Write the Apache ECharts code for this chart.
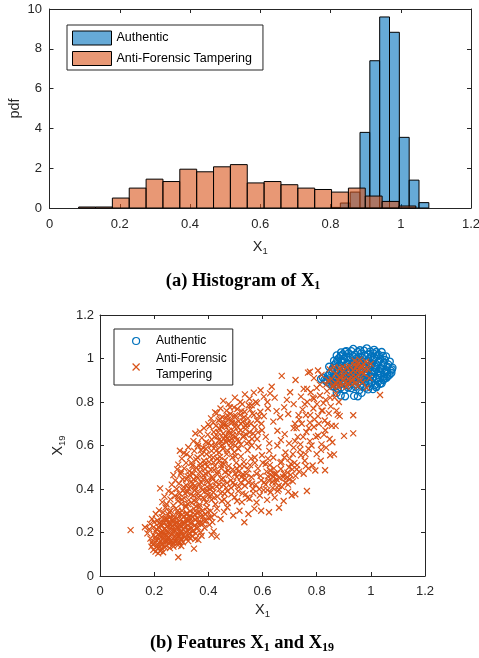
<!DOCTYPE html>
<html><head><meta charset="utf-8">
<script src="https://cdn.jsdelivr.net/npm/echarts@6/dist/echarts.min.js"></script>
<style>html,body{margin:0;padding:0;background:#fff}#c{width:479px;height:658px}</style>
</head><body><div id="c"></div>
<script>
// ---------- Histogram of X1 (pdf) ----------
const auEdges = [0.800,0.828,0.856,0.884,0.912,0.940,0.968,0.996,1.024,1.052,1.080];
const auPdf   = [0.03,0.25,0.80,3.80,7.40,9.60,8.83,3.55,1.40,0.27];
const afEdges = [0.083,0.131,0.179,0.227,0.275,0.323,0.371,0.419,0.467,0.515,0.563,0.611,0.659,0.707,0.755,0.803,0.851,0.899,0.947,0.995,1.043];
const afPdf   = [0.05,0.05,0.50,1.00,1.45,1.33,1.95,1.82,2.07,2.18,1.26,1.33,1.17,1.00,0.93,0.80,1.00,0.60,0.33,0.10];
const histXTicks = [0,0.2,0.4,0.6,0.8,1,1.2];
const histYTicks = [0,2,4,6,8,10];

// ---------- Scatter X1 vs X19 ----------
const auScatter = [
[0.816,0.906],[0.835,0.898],[0.846,0.962],[0.858,0.872],[0.874,0.842],[0.889,0.830],[0.905,0.826],[0.938,0.828],[0.952,0.826],[0.966,0.842],[0.990,0.858],[1.020,0.868],[1.040,0.886],[1.062,0.918],[1.080,0.958],[1.070,0.986],[1.056,1.010],[1.040,1.030],[1.012,1.040],[0.985,1.047],[0.960,1.038],[0.935,1.044],[0.910,1.034],[0.890,1.028],[0.874,1.014],[0.864,0.990],
[0.877,0.862],[0.903,0.857],[0.928,0.864],[0.958,0.855],[0.983,0.866],[1.008,0.859],
[0.848,0.884],[0.869,0.878],[0.891,0.885],[0.914,0.876],[0.942,0.883],[0.963,0.878],[0.991,0.886],[1.016,0.879],[1.034,0.884],
[0.829,0.902],[0.853,0.897],[0.876,0.905],[0.898,0.899],[0.921,0.904],[0.944,0.897],[0.969,0.903],[0.996,0.898],[1.019,0.905],[1.046,0.901],
[0.842,0.921],[0.864,0.917],[0.886,0.923],[0.908,0.918],[0.931,0.924],[0.954,0.916],[0.977,0.922],[0.999,0.917],[1.026,0.923],[1.049,0.918],[1.069,0.925],
[0.853,0.941],[0.876,0.937],[0.897,0.943],[0.918,0.938],[0.941,0.944],[0.962,0.936],[0.984,0.942],[1.011,0.937],[1.029,0.943],[1.054,0.938],[1.074,0.944],
[0.861,0.958],[0.882,0.963],[0.904,0.957],[0.927,0.962],[0.948,0.956],[0.971,0.963],[0.994,0.957],[1.016,0.962],[1.039,0.956],[1.061,0.963],
[0.871,0.978],[0.891,0.983],[0.913,0.977],[0.936,0.984],[0.958,0.978],[0.981,0.983],[1.004,0.977],[1.026,0.982],[1.048,0.979],
[0.882,1.002],[0.901,0.997],[0.924,1.003],[0.946,0.998],[0.968,1.004],[0.991,0.997],[1.014,1.003],[1.036,0.999],
[0.896,1.019],[0.918,1.024],[0.941,1.018],[0.964,1.023],[0.989,1.019],[1.009,1.024],[1.029,1.017],
[0.950,0.935],[0.965,0.950],[0.935,0.960],[0.980,0.925],[0.920,0.950],[1.000,0.970],[0.955,0.990],[0.970,0.915],[0.900,0.930],[1.020,0.950],
[0.866,0.870],[0.890,0.867],[0.916,0.866],[0.944,0.870],[0.971,0.869],[0.996,0.872],[1.022,0.874],
[0.838,0.892],[0.860,0.889],[0.881,0.894],[0.904,0.888],[0.928,0.893],[0.953,0.889],[0.978,0.894],[1.004,0.890],[1.028,0.894],[1.050,0.908],
[0.823,0.912],[0.847,0.909],[0.870,0.913],[0.892,0.908],[0.915,0.912],[0.937,0.908],[0.961,0.912],[0.985,0.909],[1.008,0.912],[1.033,0.910],[1.058,0.911],
[0.848,0.931],[0.870,0.928],[0.892,0.933],[0.913,0.929],[0.936,0.933],[0.958,0.927],[0.982,0.932],[1.005,0.928],[1.037,0.932],[1.060,0.929],[1.076,0.934],
[0.858,0.950],[0.879,0.947],[0.900,0.952],[0.923,0.946],[0.945,0.951],[0.967,0.946],[0.990,0.951],[1.013,0.947],[1.035,0.951],[1.057,0.947],[1.078,0.950],
[0.866,0.970],[0.887,0.967],[0.909,0.972],[0.932,0.968],[0.953,0.972],[0.976,0.967],[0.999,0.972],[1.021,0.968],[1.044,0.971],[1.064,0.973],
[0.876,0.992],[0.896,0.988],[0.919,0.993],[0.941,0.988],[0.963,0.993],[0.986,0.988],[1.009,0.993],[1.031,0.989],[1.052,0.994],
[0.889,1.011],[0.910,1.008],[0.933,1.012],[0.955,1.008],[0.978,1.012],[1.000,1.009],[1.022,1.011],[1.045,1.012],
[0.905,1.031],[0.928,1.034],[0.952,1.030],[0.975,1.036],[0.998,1.032],[1.020,1.030]
];
const afScatter = [
[0.289,0.086],[0.347,0.126],[0.197,0.120],[0.215,0.104],[0.228,0.127],[0.205,0.112],[0.222,0.115],[0.240,0.132],[0.271,0.135],[0.258,0.128],[0.190,0.135],[0.213,0.138],[0.300,0.138],[0.233,0.109],
[0.113,0.211],[0.166,0.224],[0.182,0.215],[0.175,0.196],[0.186,0.172],[0.192,0.155],[0.198,0.188],[0.205,0.205],[0.208,0.165],[0.212,0.148],[0.217,0.224],[0.220,0.185],[0.224,0.160],[0.226,0.200],[0.231,0.145],[0.234,0.176],[0.237,0.215],[0.240,0.190],[0.243,0.158],[0.246,0.228],[0.249,0.170],[0.252,0.203],[0.255,0.148],[0.258,0.185],[0.261,0.222],[0.264,0.165],[0.267,0.196],[0.270,0.152],[0.273,0.212],[0.276,0.178],[0.279,0.228],[0.282,0.160],[0.285,0.198],[0.288,0.142],[0.291,0.186],[0.294,0.219],[0.298,0.170],[0.302,0.205],[0.306,0.155],[0.310,0.190],[0.314,0.226],[0.318,0.172],[0.322,0.210],[0.326,0.160],[0.330,0.195],[0.335,0.225],[0.340,0.182],[0.345,0.208],[0.352,0.170],[0.358,0.218],[0.363,0.166],[0.372,0.200],[0.412,0.189],[0.431,0.181],[0.420,0.205],[0.198,0.225],[0.215,0.192],[0.232,0.205],[0.248,0.186],[0.265,0.210],[0.285,0.175],[0.300,0.190],[0.328,0.178],[0.218,0.170],[0.250,0.160],
[0.185,0.240],[0.192,0.262],[0.200,0.248],[0.206,0.285],[0.212,0.255],[0.218,0.302],[0.223,0.236],[0.228,0.270],[0.233,0.292],[0.238,0.245],[0.242,0.315],[0.247,0.262],[0.252,0.283],[0.256,0.238],[0.261,0.300],[0.266,0.255],[0.270,0.275],[0.275,0.242],[0.280,0.310],[0.284,0.265],[0.289,0.288],[0.294,0.237],[0.298,0.258],[0.303,0.300],[0.308,0.272],[0.312,0.245],[0.317,0.318],[0.322,0.285],[0.327,0.255],[0.332,0.298],[0.337,0.240],[0.342,0.270],[0.347,0.310],[0.352,0.260],[0.357,0.290],[0.362,0.245],[0.367,0.318],[0.372,0.275],[0.378,0.300],[0.383,0.255],[0.389,0.285],[0.395,0.315],[0.401,0.268],[0.408,0.298],[0.415,0.248],[0.423,0.282],[0.432,0.310],[0.445,0.262],[0.458,0.295],[0.470,0.315],[0.492,0.278],[0.515,0.300],[0.533,0.247],[0.548,0.285],[0.570,0.310],[0.595,0.300],[0.624,0.293],[0.661,0.314],[0.225,0.250],[0.258,0.270],[0.292,0.275],[0.320,0.265],[0.350,0.282],[0.380,0.240],
[0.222,0.403],[0.230,0.340],[0.238,0.365],[0.246,0.330],[0.253,0.390],[0.260,0.352],[0.265,0.383],[0.271,0.325],[0.277,0.368],[0.283,0.400],[0.288,0.345],[0.294,0.378],[0.300,0.332],[0.306,0.395],[0.311,0.358],[0.317,0.325],[0.322,0.385],[0.328,0.350],[0.334,0.408],[0.339,0.335],[0.345,0.370],[0.351,0.395],[0.356,0.342],[0.362,0.378],[0.368,0.328],[0.374,0.405],[0.380,0.360],[0.386,0.388],[0.392,0.338],[0.398,0.372],[0.405,0.400],[0.412,0.350],[0.419,0.385],[0.426,0.330],[0.433,0.365],[0.441,0.398],[0.450,0.345],[0.460,0.378],[0.472,0.335],[0.484,0.405],[0.497,0.362],[0.510,0.390],[0.524,0.340],[0.538,0.375],[0.552,0.355],[0.565,0.400],[0.578,0.338],[0.590,0.370],[0.604,0.395],[0.617,0.350],[0.630,0.385],[0.645,0.360],[0.660,0.398],[0.678,0.345],[0.695,0.388],[0.708,0.370],[0.721,0.376],[0.764,0.391],[0.290,0.360],[0.355,0.320],[0.415,0.405],[0.470,0.390],
[0.265,0.420],[0.271,0.464],[0.278,0.440],[0.285,0.490],[0.292,0.425],[0.298,0.470],[0.305,0.445],[0.311,0.495],[0.318,0.418],[0.324,0.458],[0.330,0.482],[0.337,0.432],[0.343,0.470],[0.350,0.415],[0.356,0.498],[0.362,0.450],[0.369,0.478],[0.375,0.428],[0.382,0.462],[0.388,0.492],[0.395,0.440],[0.401,0.475],[0.408,0.418],[0.414,0.455],[0.421,0.488],[0.428,0.432],[0.434,0.468],[0.441,0.420],[0.448,0.495],[0.455,0.450],[0.462,0.478],[0.469,0.428],[0.476,0.465],[0.483,0.440],[0.490,0.490],[0.497,0.418],[0.505,0.455],[0.512,0.480],[0.520,0.430],[0.528,0.468],[0.536,0.445],[0.548,0.490],[0.562,0.425],[0.578,0.470],[0.595,0.440],[0.612,0.420],[0.620,0.458],[0.628,0.485],[0.636,0.432],[0.644,0.470],[0.652,0.445],[0.660,0.415],[0.668,0.492],[0.676,0.455],[0.684,0.430],[0.692,0.475],[0.700,0.445],[0.710,0.490],[0.722,0.460],[0.735,0.480],[0.752,0.470],[0.770,0.495],[0.795,0.485],[0.831,0.486],[0.300,0.480],[0.345,0.445],[0.395,0.410],[0.455,0.420],[0.505,0.495],[0.640,0.455],
[0.289,0.512],[0.295,0.576],[0.302,0.540],[0.310,0.565],[0.318,0.520],[0.326,0.592],[0.333,0.548],[0.341,0.508],[0.348,0.575],[0.355,0.535],[0.362,0.598],[0.370,0.515],[0.377,0.560],[0.384,0.530],[0.391,0.585],[0.398,0.505],[0.405,0.548],[0.412,0.575],[0.419,0.522],[0.426,0.595],[0.433,0.540],[0.440,0.568],[0.447,0.510],[0.454,0.585],[0.461,0.532],[0.468,0.560],[0.475,0.505],[0.482,0.592],[0.489,0.545],[0.496,0.570],[0.503,0.520],[0.511,0.585],[0.520,0.550],[0.532,0.505],[0.545,0.578],[0.558,0.540],[0.572,0.520],[0.585,0.592],[0.598,0.555],[0.612,0.515],[0.625,0.575],[0.640,0.545],[0.655,0.600],[0.670,0.525],[0.685,0.568],[0.700,0.540],[0.715,0.590],[0.728,0.510],[0.742,0.555],[0.756,0.530],[0.770,0.585],[0.785,0.508],[0.800,0.560],[0.815,0.530],[0.835,0.590],[0.850,0.555],[0.864,0.559],[0.320,0.560],[0.380,0.590],[0.440,0.530],[0.500,0.550],[0.560,0.600],[0.620,0.540],[0.705,0.515],[0.760,0.505],
[0.345,0.620],[0.352,0.655],[0.360,0.608],[0.369,0.664],[0.376,0.635],[0.384,0.680],[0.391,0.615],[0.398,0.650],[0.405,0.688],[0.412,0.628],[0.420,0.662],[0.427,0.605],[0.434,0.642],[0.441,0.678],[0.448,0.620],[0.455,0.655],[0.462,0.690],[0.469,0.632],[0.476,0.668],[0.483,0.610],[0.490,0.648],[0.497,0.685],[0.505,0.625],[0.512,0.660],[0.520,0.605],[0.528,0.640],[0.537,0.675],[0.550,0.618],[0.565,0.655],[0.580,0.630],[0.598,0.670],[0.612,0.640],[0.655,0.668],[0.668,0.625],[0.682,0.652],[0.698,0.610],[0.715,0.680],[0.730,0.640],[0.762,0.662],[0.775,0.620],[0.790,0.685],[0.805,0.645],[0.818,0.605],[0.832,0.670],[0.848,0.630],[0.858,0.615],[0.901,0.644],[0.935,0.656],[0.870,0.690],[0.400,0.610],[0.450,0.685],[0.500,0.600],[0.540,0.650],[0.625,0.610],[0.740,0.605],
[0.400,0.697],[0.410,0.725],[0.418,0.705],[0.425,0.752],[0.431,0.748],[0.438,0.715],[0.445,0.770],[0.452,0.730],[0.460,0.700],[0.467,0.760],[0.474,0.720],[0.481,0.745],[0.488,0.705],[0.495,0.775],[0.503,0.735],[0.512,0.712],[0.522,0.758],[0.532,0.730],[0.543,0.700],[0.555,0.765],[0.568,0.740],[0.580,0.715],[0.592,0.755],[0.605,0.735],[0.640,0.710],[0.652,0.758],[0.665,0.730],[0.680,0.775],[0.695,0.745],[0.735,0.720],[0.748,0.765],[0.760,0.740],[0.775,0.705],[0.788,0.770],[0.805,0.735],[0.818,0.760],[0.830,0.715],[0.845,0.748],[0.878,0.742],[0.885,0.735],[0.935,0.739],[0.470,0.740],[0.520,0.700],[0.620,0.770],[0.720,0.700],
[0.455,0.805],[0.475,0.790],[0.498,0.820],[0.518,0.800],[0.535,0.835],[0.552,0.815],[0.568,0.843],[0.580,0.795],[0.593,0.854],[0.605,0.825],[0.618,0.800],[0.634,0.870],[0.628,0.840],[0.690,0.810],[0.702,0.845],[0.715,0.790],[0.742,0.825],[0.752,0.860],[0.765,0.800],[0.778,0.845],[0.790,0.815],[0.800,0.865],[0.812,0.830],[0.825,0.795],[0.838,0.850],[0.850,0.820],[0.860,0.870],[0.870,0.840],[0.645,0.820],[0.560,0.785],
[0.671,0.920],[0.722,0.901],[0.775,0.939],[0.768,0.935],[0.790,0.910],[0.805,0.945],[0.818,0.925],[0.835,0.880],[0.848,0.950],[0.855,0.905],[0.862,0.880],[0.870,0.930],[0.878,0.900],[0.885,0.955],[0.892,0.875],[0.898,0.920],[0.905,0.890],[0.912,0.960],[0.918,0.905],[0.925,0.935],[0.932,0.880],[0.938,0.970],[0.944,0.915],[0.950,0.945],[0.955,0.980],[0.962,0.900],[0.968,0.960],[0.975,0.930],[0.982,0.985],[0.990,0.950],[0.995,0.910],[1.000,0.975],[0.880,0.870],[0.910,0.870],[0.952,0.872],[1.034,0.832],[0.985,0.865],[0.865,0.960],[0.958,0.995],[0.940,0.990],
[0.195,0.145],[0.203,0.178],[0.209,0.215],[0.214,0.128],[0.219,0.245],[0.223,0.198],[0.227,0.142],[0.229,0.232],[0.235,0.160],[0.236,0.195],[0.241,0.262],[0.244,0.140],[0.245,0.212],[0.251,0.245],[0.253,0.175],[0.256,0.295],[0.259,0.158],[0.262,0.238],[0.263,0.190],[0.268,0.142],[0.269,0.228],[0.272,0.262],[0.274,0.165],[0.277,0.205],[0.281,0.245],[0.283,0.188],[0.286,0.222],[0.287,0.300],[0.292,0.155],[0.293,0.252],[0.296,0.200],[0.299,0.232],[0.301,0.168],[0.304,0.282],[0.307,0.215],[0.309,0.240],[0.313,0.178],[0.316,0.258],[0.319,0.200],[0.321,0.290],[0.324,0.232],[0.329,0.212],[0.331,0.268],[0.333,0.175],[0.338,0.250],[0.341,0.205],[0.344,0.290],[0.349,0.232],[0.354,0.195],[0.359,0.265],[0.361,0.225],[0.366,0.295],[0.370,0.245],[0.375,0.185],[0.381,0.275],[0.386,0.222],[0.392,0.255],[0.398,0.295],[0.404,0.235],[0.410,0.270],
[0.303,0.352],[0.309,0.410],[0.314,0.380],[0.319,0.445],[0.325,0.330],[0.327,0.402],[0.331,0.465],[0.336,0.375],[0.338,0.520],[0.342,0.425],[0.346,0.348],[0.349,0.488],[0.353,0.402],[0.358,0.455],[0.360,0.545],[0.364,0.362],[0.366,0.425],[0.371,0.500],[0.373,0.578],[0.378,0.395],[0.381,0.445],[0.385,0.355],[0.387,0.515],[0.390,0.470],[0.393,0.560],[0.396,0.392],[0.399,0.432],[0.403,0.525],[0.407,0.368],[0.409,0.488],[0.411,0.600],[0.416,0.445],[0.418,0.545],[0.422,0.360],[0.424,0.505],[0.429,0.575],[0.431,0.412],[0.436,0.480],[0.439,0.625],[0.443,0.548],[0.446,0.380],[0.449,0.445],[0.451,0.602],[0.457,0.515],[0.459,0.352],[0.463,0.645],[0.466,0.405],[0.471,0.575],[0.473,0.485],[0.479,0.625],
[0.423,0.640],[0.428,0.690],[0.436,0.660],[0.443,0.722],[0.447,0.598],[0.452,0.700],[0.458,0.632],[0.464,0.725],[0.466,0.615],[0.472,0.690],[0.478,0.655],[0.480,0.775],[0.485,0.715],[0.487,0.630],[0.493,0.665],[0.495,0.735],[0.500,0.705],[0.502,0.640],[0.507,0.768],[0.509,0.685],[0.514,0.620],[0.517,0.740],[0.519,0.670],[0.525,0.790],[0.527,0.710],[0.531,0.645],[0.534,0.755],[0.539,0.690],[0.542,0.610],[0.546,0.725],[0.549,0.785],[0.553,0.660],[0.557,0.700],[0.561,0.630],[0.563,0.748],[0.571,0.685],[0.575,0.800],[0.583,0.660],[0.588,0.735],[0.596,0.700],
[0.485,0.375],[0.492,0.430],[0.499,0.470],[0.506,0.345],[0.513,0.410],[0.517,0.505],[0.523,0.455],[0.526,0.380],[0.531,0.525],[0.535,0.415],[0.541,0.470],[0.544,0.360],[0.549,0.430],[0.554,0.510],[0.559,0.455],[0.566,0.380],[0.571,0.545],[0.575,0.420],[0.583,0.495],[0.588,0.400],[0.593,0.460],[0.601,0.520],[0.606,0.430],[0.615,0.480],[0.618,0.395],[0.623,0.440],[0.627,0.510],[0.632,0.465],[0.638,0.405],[0.642,0.495],[0.648,0.430],[0.651,0.470],[0.656,0.390],[0.663,0.450],[0.666,0.520],[0.672,0.410],[0.679,0.470],[0.681,0.545],[0.688,0.450],[0.694,0.420],[0.698,0.500],[0.704,0.465],[0.712,0.435],[0.718,0.520],[0.726,0.490],
[0.712,0.560],[0.720,0.620],[0.726,0.680],[0.733,0.740],[0.738,0.580],[0.745,0.700],[0.750,0.640],[0.756,0.790],[0.759,0.560],[0.765,0.860],[0.771,0.680],[0.776,0.740],[0.781,0.600],[0.786,0.820],[0.792,0.720],[0.797,0.640],[0.801,0.790],[0.808,0.700],[0.812,0.880],[0.816,0.580],[0.822,0.760],[0.827,0.650],[0.833,0.810],[0.840,0.700],[0.843,0.900],[0.852,0.780],[0.856,0.690],[0.866,0.820],[0.873,0.760],[0.882,0.800],
[0.872,0.885],[0.884,0.915],[0.893,0.940],[0.901,0.905],[0.908,0.935],[0.915,0.885],[0.922,0.965],[0.928,0.915],[0.936,0.945],[0.945,0.890],[0.953,0.925],[0.960,0.960],[0.966,0.935],[0.973,0.975],[0.979,0.950],[0.888,0.890],[0.897,0.960],[0.930,0.900],[0.948,0.965],[0.970,0.890]
];
const scatXTicks = [0,0.2,0.4,0.6,0.8,1,1.2];
const scatYTicks = [0,0.2,0.4,0.6,0.8,1,1.2];

// ---------- styling ----------
const BLUE = '#0072BD', ORANGE = '#D95319';
const AXC = '#262626';
const SANS = 'Liberation Sans';
const SERIF = 'Liberation Serif';

function histData(edges, pdf) { return pdf.map((v, i) => [edges[i], edges[i + 1], v]); }
function histRender(fill) {
  return function (params, api) {
    const p0 = api.coord([api.value(0), api.value(2)]);
    const p1 = api.coord([api.value(1), 0]);
    return { type: 'rect',
      shape: { x: p0[0], y: p0[1], width: p1[0] - p0[0], height: p1[1] - p0[1] },
      style: { fill: fill, stroke: '#000', lineWidth: 1 } };
  };
}
function axis(extra) {
  return Object.assign({
    type: 'value',
    axisLine: { show: true, onZero: false, lineStyle: { color: AXC, width: 1 } },
    axisTick: { show: true, inside: true, length: 4, lineStyle: { color: AXC, width: 1 } },
    splitLine: { show: false },
    axisLabel: { color: AXC, fontFamily: SANS, fontSize: 13 }
  }, extra);
}
function noLabel(a) { a.axisLabel = { show: false }; return a; }
const nameRich = {
  v: { fontFamily: SANS, fontSize: 14.5, lineHeight: 18, color: AXC },
  s: { fontFamily: SANS, fontSize: 9.5, lineHeight: 7, verticalAlign: 'bottom', color: AXC }
};
const capRich = {
  m: { fontFamily: SERIF, fontWeight: 'bold', fontSize: 18.5, lineHeight: 22, fill: '#000' },
  s: { fontFamily: SERIF, fontWeight: 'bold', fontSize: 12, lineHeight: 9, verticalAlign: 'bottom', fill: '#000' }
};
const legendNames = { auHist: 'Authentic', afHist: 'Anti-Forensic Tampering', auScat: 'Authentic', afScat: 'Anti-Forensic\nTampering' };

const chart = echarts.init(document.getElementById('c'), null, { renderer: 'canvas' });
chart.setOption({
  animation: false,
  backgroundColor: '#fff',
  grid: [
    { left: 49.5, right: 8, top: 9, bottom: 450, outerBoundsMode: 'none', containLabel: false },
    { left: 100, right: 54, top: 315, bottom: 82, outerBoundsMode: 'none', containLabel: false }
  ],
  xAxis: [
    axis({ gridIndex: 0, min: histXTicks[0], max: histXTicks[histXTicks.length - 1], interval: 0.2, position: 'bottom',
      axisLabel: { color: AXC, fontFamily: SANS, fontSize: 13, margin: 10 },
      name: '{v|X}{s|1}', nameLocation: 'middle', nameGap: 30, nameTextStyle: { rich: nameRich } }),
    noLabel(axis({ gridIndex: 0, min: 0, max: 1.2, interval: 0.2, position: 'top' })),
    axis({ gridIndex: 1, min: scatXTicks[0], max: scatXTicks[scatXTicks.length - 1], interval: 0.2, position: 'bottom',
      axisLabel: { color: AXC, fontFamily: SANS, fontSize: 13, margin: 9 },
      name: '{v|X}{s|1}', nameLocation: 'middle', nameGap: 25, nameTextStyle: { rich: nameRich } }),
    noLabel(axis({ gridIndex: 1, min: 0, max: 1.2, interval: 0.2, position: 'top' }))
  ],
  yAxis: [
    axis({ gridIndex: 0, min: histYTicks[0], max: histYTicks[histYTicks.length - 1], interval: 2, position: 'left',
      axisLabel: { color: AXC, fontFamily: SANS, fontSize: 13, margin: 7.5 },
      name: 'pdf', nameLocation: 'middle', nameGap: 27, nameMoveOverlap: false,
      nameTextStyle: { fontFamily: SANS, fontSize: 14.5, color: AXC } }),
    noLabel(axis({ gridIndex: 0, min: 0, max: 10, interval: 2, position: 'right' })),
    axis({ gridIndex: 1, min: scatYTicks[0], max: scatYTicks[scatYTicks.length - 1], interval: 0.2, position: 'left',
      axisLabel: { color: AXC, fontFamily: SANS, fontSize: 13, margin: 6 },
      name: '{v|X}{s|19}', nameLocation: 'middle', nameGap: 33, nameMoveOverlap: false, nameTextStyle: { rich: nameRich } }),
    noLabel(axis({ gridIndex: 1, min: 0, max: 1.2, interval: 0.2, position: 'right' }))
  ],
  legend: [
    { orient: 'vertical', left: 67, top: 25, padding: [5.5, 11, 4, 5], itemGap: 5.5,
      itemWidth: 39, itemHeight: 14, backgroundColor: '#fff', borderColor: AXC, borderWidth: 1, borderRadius: 0,
      selectedMode: false, formatter: n => legendNames[n],
      textStyle: { fontFamily: SANS, fontSize: 12.5, color: '#000', lineHeight: 14 },
      data: [
        { name: 'auHist', icon: 'rect', itemStyle: { color: 'rgba(0,114,189,0.6)', borderColor: '#000', borderWidth: 1 } },
        { name: 'afHist', icon: 'rect', itemStyle: { color: 'rgba(217,83,25,0.6)', borderColor: '#000', borderWidth: 1 } }
      ] },
    { orient: 'vertical', left: 114, top: 329, padding: [4, 6, 2, 18], itemGap: 2,
      itemWidth: 30, itemHeight: 7, backgroundColor: '#fff', borderColor: AXC, borderWidth: 1, borderRadius: 0,
      selectedMode: false, formatter: n => legendNames[n],
      textStyle: { fontFamily: SANS, fontSize: 12, color: '#000', lineHeight: 16 },
      data: [
        { name: 'auScat', icon: 'circle', itemStyle: { color: 'rgba(0,0,0,0)', borderColor: BLUE, borderWidth: 1.2 } },
        { name: 'afScat', icon: 'path://M0,0L10,10M10,0L0,10', itemStyle: { color: 'rgba(0,0,0,0)', borderColor: ORANGE, borderWidth: 1.2 } }
      ] }
  ],
  series: [
    { name: 'auHist', type: 'custom', xAxisIndex: 0, yAxisIndex: 0, renderItem: histRender('rgba(0,114,189,0.6)'),
      encode: { x: [0, 1], y: 2 }, data: histData(auEdges, auPdf), itemStyle: { color: 'rgba(0,114,189,0.6)' }, silent: true },
    { name: 'afHist', type: 'custom', xAxisIndex: 0, yAxisIndex: 0, renderItem: histRender('rgba(217,83,25,0.6)'),
      encode: { x: [0, 1], y: 2 }, data: histData(afEdges, afPdf), itemStyle: { color: 'rgba(217,83,25,0.6)' }, silent: true },
    { name: 'auScat', type: 'scatter', xAxisIndex: 2, yAxisIndex: 2, symbol: 'circle', symbolSize: 7,
      itemStyle: { color: 'rgba(0,0,0,0)', borderColor: BLUE, borderWidth: 1.3, opacity: 1 }, data: auScatter, silent: true },
    { name: 'afScat', type: 'scatter', xAxisIndex: 2, yAxisIndex: 2, symbol: 'path://M0,0L10,10M10,0L0,10', symbolSize: 6,
      itemStyle: { color: 'rgba(0,0,0,0)', borderColor: ORANGE, borderWidth: 1.2, opacity: 1 }, data: afScatter, silent: true }
  ],
  graphic: [
    { type: 'text', x: 243, y: 281, style: { text: '{m|(a) Histogram of X}{s|1}', rich: capRich, align: 'center', verticalAlign: 'middle' } },
    { type: 'text', x: 242, y: 643, style: { text: '{m|(b) Features X}{s|1}{m| and X}{s|19}', rich: capRich, align: 'center', verticalAlign: 'middle' } }
  ]
});
</script>
</body></html>
